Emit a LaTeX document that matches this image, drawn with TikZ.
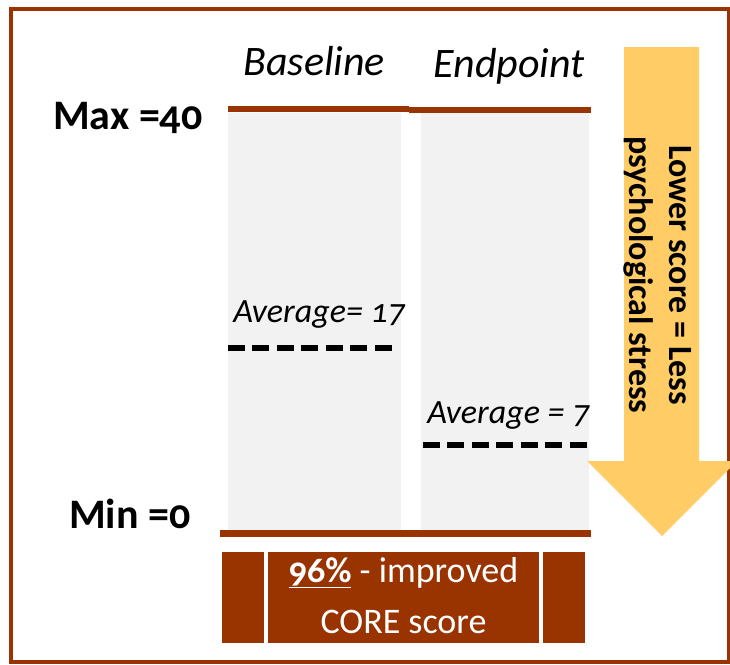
\documentclass[tikz,border=0pt]{standalone}
\usepackage{fontspec}
\setmainfont{Carlito}[Numbers=OldStyle]
\definecolor{brn}{HTML}{993300}
\definecolor{colgray}{HTML}{F2F2F2}
\definecolor{arrowc}{HTML}{FFCC66}
\begin{document}
\begin{tikzpicture}[x=0.75pt,y=-0.75pt,
  lbl/.style={inner sep=0pt,font=\fontsize{31.5}{36}\selectfont\bfseries},
  ttl/.style={inner sep=0pt,font=\fontsize{31.5}{37}\selectfont\itshape},
  avg/.style={inner sep=0pt,font=\fontsize{25.5}{32}\selectfont\itshape},
  boxtxt/.style={inner sep=0pt,text=white,font=\fontsize{27}{32}\selectfont},
  avgline/.style={line width=4.2pt,dash pattern=on 12.75pt off 5.6pt},
  brnline/.style={brn,line width=4.5pt}]
\useasboundingbox (0,0) rectangle (730,664);
\begin{scope}
\clip (0,0) rectangle (730,664);
% frame
\draw[brn,line width=3pt] (11,9) rectangle (728.5,662);
% columns
\fill[colgray] (228,113) rectangle (400.5,530);
\fill[colgray] (421,113) rectangle (589,530);
% top lines
\coordinate (b1) at (228,108.5);
\coordinate (b2) at (409,108.5);
\coordinate (e1) at (409,109.7);
\coordinate (e2) at (591,109.7);
\draw[brnline] (b1) -- (b2);
\draw[brnline] (e1) -- (e2);
% bottom line
\coordinate (m1) at (220,533.5);
\coordinate (m2) at (591,533.5);
\draw[brn,line width=5pt] (m1) -- (m2);
% dashed averages
\coordinate (d1) at (228,348);
\coordinate (d2) at (393,348);
\coordinate (d3) at (423,445);
\coordinate (d4) at (589,445);
\draw[avgline] (d1) -- (d2);
\draw[avgline] (d3) -- (d4);
% arrow
\fill[arrowc] (624,47) -- (699,47) -- (699,461) -- (737,461) -- (662,536)
  -- (587,461) -- (624,461) -- cycle;
\node[rotate=-90,align=center,inner sep=0pt,font=\fontsize{25.5}{30}\selectfont\bfseries]
  (arrtxt) at (658,275) {Lower score = Less\\psychological stress};
% boxes
\fill[brn] (222,552) rectangle (264,643);
\fill[brn] (268,552) rectangle (539,643);
\fill[brn] (543,552) rectangle (585,643);
\node[boxtxt,anchor=base] (bt1) at (403.5,582) {\textbf{\underline{96\%}} - improved};
\node[boxtxt,anchor=base] (bt2) at (403.5,633) {CORE score};
\end{scope}
% labels
\node[ttl,anchor=base west] (base) at (243,75) {Baseline};
\node[ttl,anchor=base west] (endp) at (433,77) {Endpoint};
\node[lbl,anchor=base west] (max) at (53,129) {Max =40};
\node[lbl,anchor=base west] (min) at (69,528) {Min =0};
\node[avg,anchor=base west] (a1) at (233,322) {Average= 17};
\node[avg,anchor=base west] (a2) at (427,423) {Average = 7};
\end{tikzpicture}
\end{document}
